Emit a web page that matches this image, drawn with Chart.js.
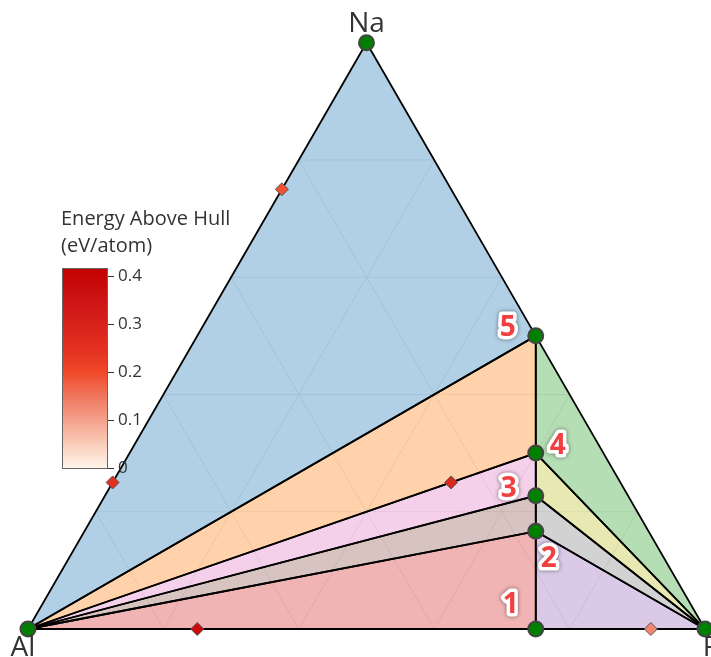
<!DOCTYPE html>
<html>
<head>
<meta charset="utf-8">
<script src="https://cdn.jsdelivr.net/npm/chart.js@4.4.0/dist/chart.umd.min.js"></script>
<style>
  html, body { margin: 0; padding: 0; background: #fff; }
  #wrap { width: 711px; height: 657px; position: relative; }
</style>
</head>
<body>
<div id="wrap"><canvas id="myChart"></canvas></div>
<script>
// phases on the hull, as fractions of Na, Al, F
const stableNames = ['Na', 'Al', 'F', 'NaF', 'Na3AlF6', 'Na5Al3F14', 'NaAlF4', 'AlF3'];
const stableNa = [1, 0, 0, 0.5, 0.3, 0.2273, 0.1667, 0];
const stableAl = [0, 1, 0, 0, 0.1, 0.1364, 0.1667, 0.25];
const stableF  = [0, 0, 1, 0.5, 0.6, 0.6364, 0.6667, 0.75];

// phases above the hull
const unstableNames = ['Na3Al', 'NaAl3', 'NaAlF2', 'Al3F', 'Al2F23'];
const unstableNa = [0.75, 0.25, 0.25, 0, 0];
const unstableAl = [0.25, 0.75, 0.25, 0.75, 0.08];
const unstableF  = [0, 0, 0.5, 0.25, 0.92];
const unstableEhull = [0.19, 0.25, 0.28, 0.38, 0.13];

// facets of the hull (index into stable phases)
const facets = [
  [0, 1, 3], [1, 3, 4], [3, 4, 2], [1, 4, 5], [4, 5, 2],
  [1, 5, 6], [5, 6, 2], [1, 6, 7], [6, 7, 2]
];
const facetColors = ['#1f77b4', '#ff7f0e', '#2ca02c', '#e377c2', '#bcbd22',
                     '#8c564b', '#7f7f7f', '#d62728', '#9467bd'];

// numbered labels
const labelNums = ['1', '2', '3', '4', '5'];
const labelPhase = [7, 6, 5, 4, 3];
const labelOffsets = [[-25, -24], [13, 28], [-27, -7], [22, -7], [-28, -8]];

// grid and colorbar
const gridTicks = [0.2, 0.4, 0.6, 0.8];
const cbTicks = [0, 0.1, 0.2, 0.3, 0.4];
const cbMax = 0.417;
const cbStops = [
  [0, [255, 245, 235]], [0.12, [250, 205, 185]], [0.24, [245, 160, 140]],
  [0.36, [240, 118, 92]], [0.48, [240, 72, 40]], [0.6, [226, 48, 32]],
  [0.72, [214, 34, 26]], [0.84, [205, 20, 20]], [1, [195, 0, 0]]
];

// ternary -> cartesian
function tern(na, al, f) {
  return { x: f + na / 2, y: na * Math.sqrt(3) / 2 };
}

function hexA(hex, a) {
  const n = parseInt(hex.slice(1), 16);
  return `rgba(${n >> 16},${(n >> 8) & 255},${n & 255},${a})`;
}

function colorFor(v) {
  const t = Math.max(0, Math.min(1, v / cbMax));
  for (let i = 1; i < cbStops.length; i++) {
    if (t <= cbStops[i][0]) {
      const [t0, c0] = cbStops[i - 1];
      const [t1, c1] = cbStops[i];
      const k = (t - t0) / (t1 - t0);
      const c = c0.map((c, j) => Math.round(c + (c1[j] - c) * k));
      return `rgb(${c[0]},${c[1]},${c[2]})`;
    }
  }
  return 'rgb(195,0,0)';
}

const datasets = [];

// grid lines (under everything)
gridTicks.forEach(t => {
  const lines = [
    [tern(t, 1 - t, 0), tern(t, 0, 1 - t)],
    [tern(1 - t, t, 0), tern(0, t, 1 - t)],
    [tern(1 - t, 0, t), tern(0, 1 - t, t)]
  ];
  lines.forEach(l => datasets.push({
    type: 'scatter', data: l, showLine: true, borderColor: '#ebebeb',
    borderWidth: 1, pointRadius: 0, fill: false, order: 5, clip: false
  }));
});

// facets
facets.forEach((fc, i) => {
  const pts = fc.concat([fc[0]]).map(k => tern(stableNa[k], stableAl[k], stableF[k]));
  datasets.push({
    type: 'scatter', data: pts, showLine: true, fill: 'shape',
    backgroundColor: hexA(facetColors[i], 0.35), borderColor: '#000',
    borderWidth: 1.8, pointRadius: 0, order: 3, clip: false
  });
});

// unstable phases
datasets.push({
  type: 'scatter',
  data: unstableNames.map((n, i) => tern(unstableNa[i], unstableAl[i], unstableF[i])),
  pointStyle: 'rectRot', pointRadius: 6.5,
  pointBackgroundColor: unstableEhull.map(colorFor),
  pointBorderColor: '#555', pointBorderWidth: 1, order: 1, clip: false
});

// stable phases
datasets.push({
  type: 'scatter',
  data: stableNames.map((n, i) => tern(stableNa[i], stableAl[i], stableF[i])),
  pointStyle: 'circle', pointRadius: 7.5,
  pointBackgroundColor: '#008000', pointBorderColor: '#444',
  pointBorderWidth: 2, order: 0, clip: false
});

const overlay = {
  id: 'overlay',
  afterDatasetsDraw(chart) {
    const ctx = chart.ctx;
    const xs = chart.scales.x, ys = chart.scales.y;
    const px = p => [xs.getPixelForValue(p.x), ys.getPixelForValue(p.y)];
    ctx.save();

    // vertex labels
    ctx.fillStyle = '#333';
    ctx.font = '28px "Open Sans"';
    ctx.textAlign = 'center';
    ctx.textBaseline = 'alphabetic';
    const [naX, naY] = px(tern(1, 0, 0));
    ctx.fillText('Na', naX, naY - 11);
    const [alX, alY] = px(tern(0, 1, 0));
    ctx.fillText('Al', alX - 5, alY + 27);
    const [fX, fY] = px(tern(0, 0, 1));
    ctx.fillText('F', fX + 5, fY + 27);

    // numbered labels
    ctx.font = 'bold 28px "Open Sans"';
    ctx.textBaseline = 'middle';
    labelNums.forEach((s, i) => {
      const k = labelPhase[i];
      const [x0, y0] = px(tern(stableNa[k], stableAl[k], stableF[k]));
      const x = x0 + labelOffsets[i][0], y = y0 + labelOffsets[i][1];
      ctx.save();
      ctx.shadowColor = 'rgba(0,0,0,0.5)';
      ctx.shadowBlur = 4;
      ctx.lineJoin = 'round';
      ctx.lineWidth = 7;
      ctx.strokeStyle = '#fff';
      ctx.strokeText(s, x, y);
      ctx.restore();
      ctx.fillStyle = '#f24040';
      ctx.fillText(s, x, y);
    });

    // colorbar
    const bx = 62, by = 268, bw = 45, bh = 200;
    const g = ctx.createLinearGradient(0, by + bh, 0, by);
    cbStops.forEach(([t, c]) => g.addColorStop(t, `rgb(${c[0]},${c[1]},${c[2]})`));
    ctx.fillStyle = g;
    ctx.fillRect(bx, by, bw, bh);
    ctx.strokeStyle = '#666';
    ctx.lineWidth = 1;
    ctx.strokeRect(bx + 0.5, by + 0.5, bw, bh);
    ctx.fillStyle = '#333';
    ctx.strokeStyle = '#333';
    ctx.font = '17px "Open Sans"';
    ctx.textAlign = 'left';
    ctx.textBaseline = 'middle';
    cbTicks.forEach(v => {
      const y = Math.round(by + bh - v / cbMax * bh) + 0.5;
      ctx.beginPath();
      ctx.moveTo(bx + bw + 1, y);
      ctx.lineTo(bx + bw + 7, y);
      ctx.stroke();
      ctx.fillText(String(v), bx + bw + 11, y);
    });
    ctx.font = '20px "Open Sans"';
    ctx.textBaseline = 'alphabetic';
    ctx.fillText('Energy Above Hull', 61, 225);
    ctx.fillText('(eV/atom)', 61, 252);
    ctx.restore();
  }
};

const ctx = document.getElementById('myChart').getContext('2d');
const chart = new Chart(ctx, {
  type: 'scatter',
  data: { datasets: datasets },
  options: {
    responsive: true,
    maintainAspectRatio: false,
    animation: false,
    layout: { padding: 0, autoPadding: false },
    plugins: { legend: { display: false }, tooltip: { enabled: false } },
    scales: {
      x: { type: 'linear', min: -0.041359, max: 1.008863, display: false },
      y: { type: 'linear', min: -0.041359, max: 0.929099, display: false }
    }
  },
  plugins: [overlay]
});
</script>
</body>
</html>
